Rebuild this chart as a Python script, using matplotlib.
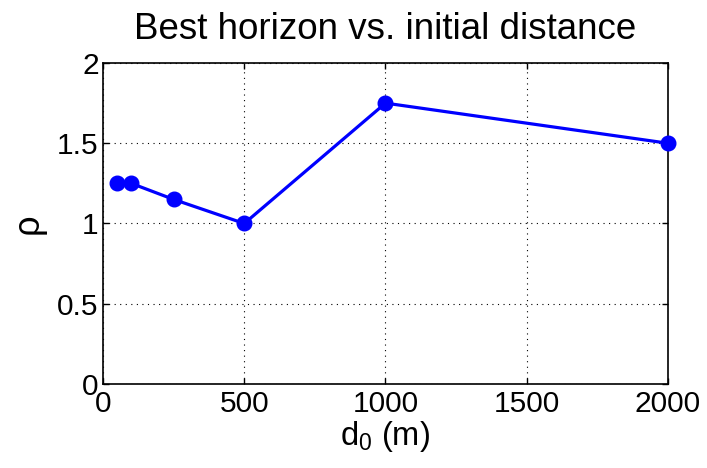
import matplotlib
matplotlib.use('Agg')
import matplotlib.pyplot as plt

plt.rcParams['font.family'] = ['Liberation Sans', 'DejaVu Sans']
plt.rcParams['mathtext.fontset'] = 'custom'
plt.rcParams['mathtext.rm'] = 'Liberation Sans'
plt.rcParams['mathtext.it'] = 'Liberation Sans'

# initial distance (m) and best horizon
d0 = [50, 100, 250, 500, 1000, 2000]
rho = [1.25, 1.25, 1.15, 1.0, 1.75, 1.5]
xticks = [0, 500, 1000, 1500, 2000]
yticks = [0, 0.5, 1, 1.5, 2]

fig = plt.figure(figsize=(7.07, 4.68), dpi=100)
ax = fig.add_axes([0.1457, 0.1795, 0.7991, 0.6859])

ax.plot(d0, rho, '-o', color='#0000ff', lw=2.3, ms=10.5, zorder=3, clip_on=False)

ax.set_xlim(0, 2000)
ax.set_ylim(0, 2)
ax.set_xticks(xticks)
ax.set_yticks(yticks)
ax.set_yticklabels(['0', '0.5', '1', '1.5', '2'])
ax.tick_params(direction='in', top=True, right=True, labelsize=21.5,
               length=4, width=1)
ax.tick_params(axis='x', pad=4)
ax.tick_params(axis='y', pad=3)
for s in ax.spines.values():
    s.set_linewidth(1.2)

ax.grid(True, linestyle=(0, (1, 4)), color='black', lw=0.8)

ax.set_title('Best horizon vs. initial distance', fontsize=26.5, pad=17)
ax.set_xlabel(r'd$_0$ (m)', fontsize=23.5, labelpad=1)
ax.set_ylabel('ρ', fontsize=26, labelpad=8)

fig.savefig('out.png', dpi=100)
